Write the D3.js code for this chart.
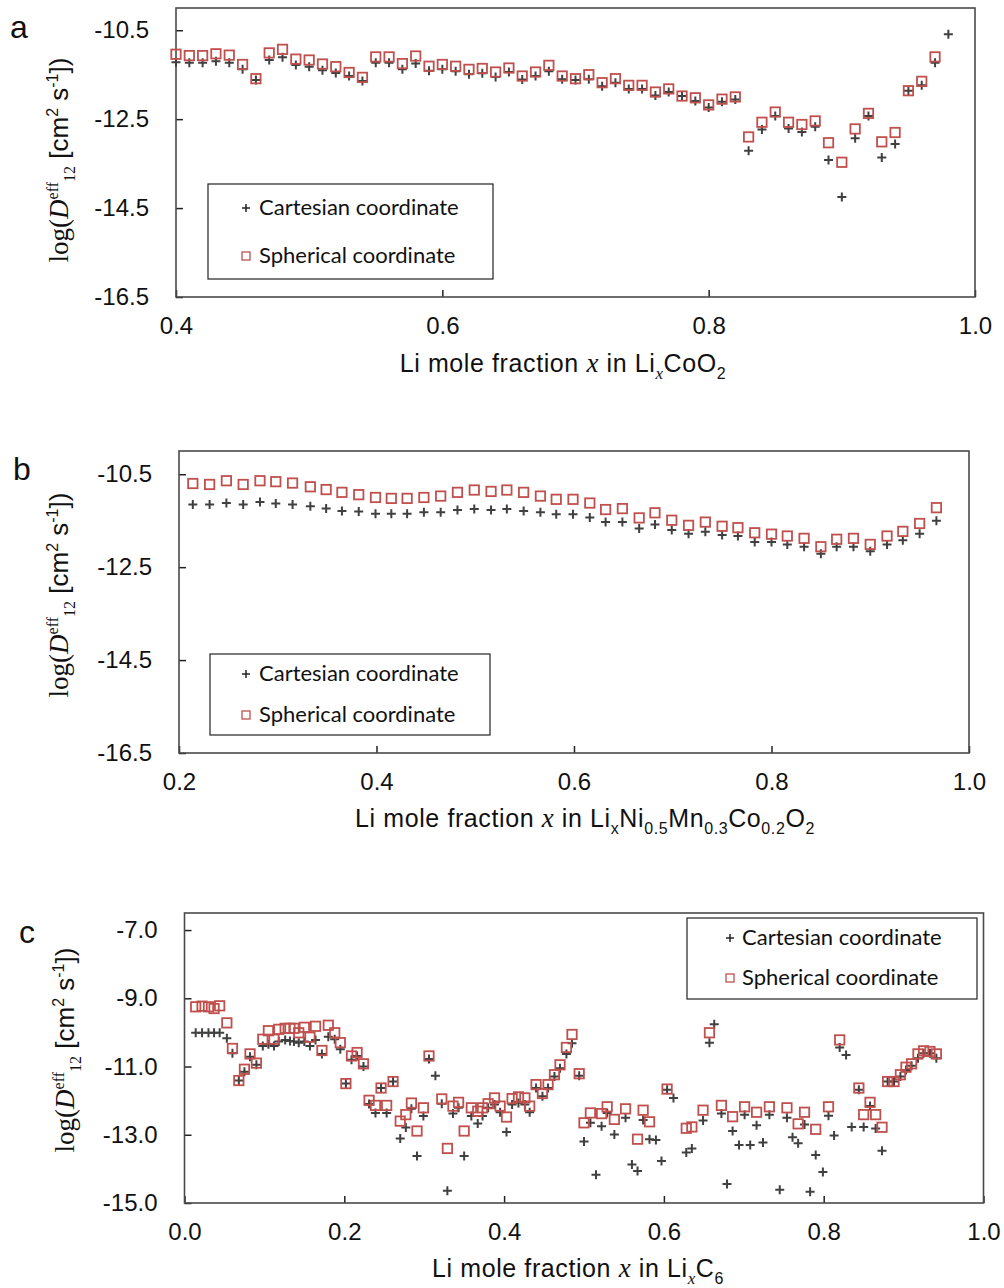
<!DOCTYPE html>
<html><head><meta charset="utf-8">
<script src="https://cdn.jsdelivr.net/npm/d3@7"></script>
<style>body{margin:0;background:#fff}svg{display:block}</style>
</head><body>
<svg id="chart" width="1004" height="1288"></svg>
<script>
// ---------------- DATA ----------------
// Panel a: LixCoO2
const xA = [0.40,0.41,0.42,0.43,0.44,0.45,0.46,0.47,0.48,0.49,0.50,0.51,0.52,0.53,0.54,0.55,0.56,0.57,0.58,0.59,0.60,0.61,0.62,0.63,0.64,0.65,0.66,0.67,0.68,0.69,0.70,
            0.71,0.72,0.73,0.74,0.75,0.76,0.77,0.78,0.79,0.80,0.81,0.82,0.83,0.84,0.85,0.86,0.87,0.88,0.89,0.90,0.91,0.92,0.93,0.94,0.95,0.96,0.97,0.98];
const cartA = [-11.22,-11.23,-11.23,-11.20,-11.23,-11.38,-11.62,-11.17,-11.11,-11.28,-11.32,-11.40,-11.46,-11.53,-11.64,-11.23,-11.23,-11.38,-11.25,-11.41,-11.38,-11.42,-11.49,-11.47,-11.55,-11.44,-11.61,-11.53,-11.42,-11.60,-11.62,
               -11.60,-11.76,-11.68,-11.82,-11.82,-11.97,-11.89,-11.98,-12.09,-12.24,-12.11,-12.06,-13.21,-12.73,-12.43,-12.71,-12.79,-12.67,-13.42,-14.25,-12.93,-12.43,-13.36,-13.06,-11.86,-11.74,-11.23,-10.59];
const sphA = [-11.04,-11.07,-11.07,-11.03,-11.06,-11.27,-11.59,-11.01,-10.93,-11.15,-11.17,-11.26,-11.32,-11.45,-11.56,-11.10,-11.10,-11.25,-11.08,-11.31,-11.27,-11.31,-11.38,-11.36,-11.44,-11.35,-11.53,-11.44,-11.29,-11.53,-11.59,
              -11.50,-11.68,-11.59,-11.74,-11.74,-11.89,-11.82,-11.98,-12.02,-12.18,-12.05,-12.00,-12.90,-12.57,-12.34,-12.57,-12.62,-12.54,-13.03,-13.47,-12.72,-12.37,-13.01,-12.80,-11.86,-11.65,-11.10,null];

// Panel b: LixNi0.5Mn0.3Co0.2O2
const xB = [0.214,0.231,0.248,0.265,0.282,0.298,0.315,0.333,0.349,0.365,0.382,0.399,0.415,0.431,0.448,0.465,0.482,0.499,0.516,0.532,0.549,0.566,0.582,0.599,
            0.616,0.632,0.649,0.666,0.682,0.699,0.716,0.733,0.750,0.766,0.783,0.800,0.816,0.833,0.850,0.866,0.883,0.900,0.917,0.933,0.950,0.967];
const cartB = [-11.15,-11.15,-11.12,-11.15,-11.10,-11.13,-11.15,-11.19,-11.24,-11.29,-11.30,-11.35,-11.35,-11.35,-11.32,-11.32,-11.27,-11.25,-11.27,-11.25,-11.29,-11.32,-11.36,-11.36,
               -11.43,-11.53,-11.53,-11.67,-11.58,-11.70,-11.78,-11.74,-11.81,-11.83,-11.96,-11.96,-12.01,-12.06,-12.21,-12.06,-12.06,-12.16,-12.01,-11.92,-11.78,-11.50];
const sphB = [-10.70,-10.72,-10.64,-10.72,-10.64,-10.66,-10.69,-10.77,-10.83,-10.89,-10.94,-11.00,-11.02,-11.02,-11.00,-10.97,-10.89,-10.84,-10.87,-10.84,-10.89,-10.97,-11.04,-11.04,
              -11.12,-11.26,-11.24,-11.44,-11.33,-11.49,-11.60,-11.53,-11.62,-11.65,-11.76,-11.79,-11.83,-11.88,-12.06,-11.90,-11.88,-12.01,-11.83,-11.73,-11.56,-11.22];

// Panel c: LixC6
const xC = [0.014,0.022,0.030,0.037,0.044,0.053,0.060,0.068,0.075,0.082,0.090,0.098,0.105,0.112,0.118,0.126,0.132,0.137,0.143,0.150,0.157,0.164,0.172,0.180,0.188,0.195,
            0.202,0.209,0.216,0.224,0.231,0.239,0.246,0.253,0.261,0.270,0.277,0.284,0.291,0.299,0.306,0.314,0.322,0.329,0.336,0.343,0.350,0.359,0.367,0.373,0.380,0.388,0.395,
            0.403,0.410,0.418,0.426,0.432,0.440,0.448,0.455,0.463,0.470,0.478,0.485,0.494,0.500,0.508,0.515,0.522,0.529,0.538,0.552,0.560,0.567,0.574,0.582,0.590,0.597,
            0.604,0.612,0.628,0.635,0.649,0.657,0.663,0.672,0.679,0.686,0.694,0.701,0.708,0.716,0.724,0.732,0.745,0.754,0.761,0.768,0.776,0.783,0.790,0.799,
            0.806,0.813,0.820,0.828,0.835,0.844,0.850,0.858,0.865,0.873,0.880,0.888,0.896,0.903,0.910,0.918,0.925,0.933,0.941];
const cartC = [-10.01,-10.01,-10.01,-10.01,-10.01,-10.17,-10.61,-11.41,-11.15,-10.71,-10.95,-10.40,-10.35,-10.40,-10.27,-10.22,-10.25,-10.27,-10.30,-10.27,-10.40,-10.22,-10.63,-10.13,-10.20,-10.49,
               -11.50,-10.80,-10.69,-11.00,-12.10,-12.36,-11.63,-12.36,-11.44,-13.11,-12.79,-12.24,-13.62,-12.45,-10.78,-11.27,-12.09,-14.64,-12.38,-12.21,-13.62,-12.45,-12.67,-12.45,-12.21,-12.11,-12.34,
               -12.92,-12.11,-12.07,-12.11,-12.34,-11.63,-11.87,-11.63,-11.29,-11.05,-10.63,-10.32,-11.27,-13.20,-12.65,-14.17,-12.75,-12.36,-12.99,-12.50,-13.87,-14.06,-12.57,-13.13,-13.15,-13.77,
               -11.68,-11.92,-13.52,-13.40,-12.58,-10.30,-9.76,-12.38,-14.44,-12.89,-13.30,-12.41,-13.30,-12.72,-13.23,-12.41,-14.61,-12.50,-13.07,-13.25,-12.70,-14.67,-13.59,-14.09,
               -12.44,-13.02,-10.44,-10.66,-12.77,-11.68,-12.77,-12.16,-12.82,-13.47,-11.44,-11.44,-11.29,-11.10,-10.98,-10.76,-10.61,-10.61,-10.76];
const sphC = [-9.25,-9.23,-9.25,-9.30,-9.22,-9.72,-10.47,-11.41,-11.08,-10.63,-10.90,-10.20,-9.95,-10.20,-9.91,-9.88,-9.88,-9.88,-10.01,-9.85,-10.14,-9.82,-10.53,-9.79,-10.01,-10.30,
              -11.50,-10.69,-10.59,-10.92,-11.99,-12.14,-11.63,-12.14,-11.44,-12.60,-12.41,-12.07,-12.89,-12.21,-10.69,null,-11.95,-13.40,-12.16,-12.05,-12.89,-12.21,-12.31,-12.21,-12.09,-11.92,-12.16,
              -12.48,-11.94,-11.89,-11.92,-12.16,-11.53,-11.79,-11.53,-11.24,-10.95,-10.44,-10.06,-11.21,-12.65,-12.36,null,-12.38,-12.18,-12.55,-12.24,null,-13.13,-12.28,-12.62,null,null,
              -11.66,null,-12.81,-12.77,-12.28,-10.01,null,-12.14,null,-12.47,null,-12.18,null,-12.34,null,-12.18,null,-12.21,null,-12.68,-12.34,null,-12.84,null,
              -12.18,null,-10.22,null,null,-11.63,-12.41,-12.05,-12.41,-12.78,-11.44,-11.44,-11.24,-11.02,-10.92,-10.63,-10.54,-10.56,-10.63];

// Tick labels
const xTicksA = [0.4,0.6,0.8,1.0];
const xTicksB = [0.2,0.4,0.6,0.8,1.0];
const xTicksC = [0.0,0.2,0.4,0.6,0.8,1.0];
const yTicksAB = [-10.5,-12.5,-14.5,-16.5];
const yTicksC = [-7.0,-9.0,-11.0,-13.0,-15.0];
const seriesNames = ["Cartesian coordinate","Spherical coordinate"];

// ---------------- DRAWING ----------------
const svg = d3.select("#chart");
const SANS = "'Liberation Sans', Arial, sans-serif";
const SERIF = "'Liberation Serif', 'Times New Roman', serif";
const LEG = "Lato, 'Open Sans', sans-serif";
const RED = "#c0504d", DARK = "#404040";
const fmt = d => d.toFixed(1);

function addRuns(textSel, runs, base) {
  runs.forEach(r => {
    const t = textSel.append("tspan").text(r.t)
      .attr("font-family", r.serif ? SERIF : SANS)
      .attr("font-size", r.size || base);
    if (r.italic) t.attr("font-style", "italic");
    if (r.dy) t.attr("dy", r.dy);
  });
}

function panel(cfg) {
  const x = d3.scaleLinear().domain(cfg.xDomain).range([cfg.left, cfg.right]);
  const y = d3.scaleLinear().domain(cfg.yDomain).range([cfg.bottom, cfg.top]);
  const g = svg.append("g");

  const xa = g.append("g").attr("transform", `translate(0,${cfg.bottom})`)
    .call(d3.axisBottom(x).tickValues(cfg.xTicks).tickFormat(fmt)
      .tickSizeInner(-7).tickSizeOuter(0).tickPadding(20));
  const ya = g.append("g").attr("transform", `translate(${cfg.left},0)`)
    .call(d3.axisLeft(y).tickValues(cfg.yTicks).tickFormat(fmt)
      .tickSizeInner(-7).tickSizeOuter(0).tickPadding(27));
  [xa, ya].forEach(a => {
    a.select(".domain").remove();
    a.selectAll(".tick line").attr("stroke", "#222").attr("stroke-width", 1.5);
    a.selectAll(".tick text").attr("font-family", SANS).attr("font-size", 24).attr("fill", "#111");
  });

  g.append("rect").attr("x", cfg.left).attr("y", cfg.top)
    .attr("width", cfg.right - cfg.left).attr("height", cfg.bottom - cfg.top)
    .attr("fill", "none").attr("stroke", "#4a4a4a").attr("stroke-width", 1.6);

  const cart = cfg.xs.map((v, i) => [v, cfg.cart[i]]).filter(d => d[1] != null);
  const sph = cfg.xs.map((v, i) => [v, cfg.sph[i]]).filter(d => d[1] != null);

  g.append("g").selectAll("path").data(cart).join("path")
    .attr("transform", d => `translate(${x(d[0])},${y(d[1])})`)
    .attr("d", "M-4.5,0H4.5M0,-4.5V4.5")
    .attr("stroke", DARK).attr("stroke-width", 2).attr("fill", "none");
  g.append("g").selectAll("rect").data(sph).join("rect")
    .attr("x", d => x(d[0]) - 4.7).attr("y", d => y(d[1]) - 4.7)
    .attr("width", 9.4).attr("height", 9.4)
    .attr("fill", "none").attr("stroke", RED).attr("stroke-width", 1.8);

  // legend
  const L = cfg.legend;
  g.append("rect").attr("x", L.x).attr("y", L.y).attr("width", L.w).attr("height", L.h)
    .attr("fill", "#fff").attr("stroke", "#222").attr("stroke-width", 1.2);
  g.append("path").attr("transform", `translate(${L.mx},${L.r1})`)
    .attr("d", "M-4,0H4M0,-4V4").attr("stroke", "#222").attr("stroke-width", 1.5);
  g.append("rect").attr("x", L.mx - 4).attr("y", L.r2 - 4).attr("width", 8).attr("height", 8)
    .attr("fill", "none").attr("stroke", RED).attr("stroke-width", 1.3);
  [L.r1, L.r2].forEach((ry, i) => {
    g.append("text").attr("x", L.tx).attr("y", ry + 7).text(seriesNames[i])
      .attr("font-family", LEG).attr("font-size", 22).attr("fill", "#111");
  });

  // panel letter
  g.append("text").attr("x", cfg.letter[0]).attr("y", cfg.letter[1]).text(cfg.letter[2])
    .attr("font-family", SANS).attr("font-size", 32).attr("fill", "#111");

  // x title
  const xt = g.append("text").attr("x", cfg.xTitleX).attr("y", cfg.xTitleY)
    .attr("text-anchor", "middle").attr("fill", "#111").attr("letter-spacing", 0.6);
  addRuns(xt, cfg.xTitle, 25);

  // y title
  const yt = g.append("text")
    .attr("transform", `translate(${cfg.yTitleX},${cfg.yTitleY}) rotate(-90)`)
    .attr("text-anchor", "middle").attr("fill", "#111");
  addRuns(yt, [
    {t: "log(", serif: true, size: 27},
    {t: "D", serif: true, italic: true, size: 27},
    {t: "eff", serif: true, size: 16, dy: -10},
    {t: "12", serif: true, size: 16, dy: 17},
    {t: " [cm", dy: -7},
    {t: "2", size: 16, dy: -10},
    {t: " s", dy: 10},
    {t: "-1", size: 16, dy: -10},
    {t: "])", dy: 10}
  ], 26);
}

const xTitleStart = [
  {t: "Li mole fraction "},
  {t: "x", serif: true, italic: true, size: 27},
  {t: " in Li"}
];

panel({
  xs: xA, cart: cartA, sph: sphA,
  xDomain: [0.4, 1.0], yDomain: [-16.5, -10.0],
  left: 176, right: 975, top: 8, bottom: 297,
  xTicks: xTicksA, yTicks: yTicksAB,
  legend: {x: 208, y: 184, w: 285, h: 95, r1: 208, r2: 256, mx: 246, tx: 259},
  letter: [10, 38, "a"],
  xTitleX: 563, xTitleY: 372,
  xTitle: xTitleStart.concat([
    {t: "x", serif: true, italic: true, size: 17, dy: 7},
    {t: "CoO", dy: -7},
    {t: "2", size: 16, dy: 7}
  ]),
  yTitleX: 68, yTitleY: 160
});

panel({
  xs: xB, cart: cartB, sph: sphB,
  xDomain: [0.2, 1.0], yDomain: [-16.5, -10.0],
  left: 179, right: 969, top: 451, bottom: 753,
  xTicks: xTicksB, yTicks: yTicksAB,
  legend: {x: 210, y: 654, w: 280, h: 81, r1: 674, r2: 715, mx: 246, tx: 259},
  letter: [13, 480, "b"],
  xTitleX: 585, xTitleY: 827,
  xTitle: xTitleStart.concat([
    {t: "x", size: 16, dy: 7},
    {t: "Ni", dy: -7},
    {t: "0.5", size: 16, dy: 7},
    {t: "Mn", dy: -7},
    {t: "0.3", size: 16, dy: 7},
    {t: "Co", dy: -7},
    {t: "0.2", size: 16, dy: 7},
    {t: "O", dy: -7},
    {t: "2", size: 16, dy: 7}
  ]),
  yTitleX: 68, yTitleY: 595
});

panel({
  xs: xC, cart: cartC, sph: sphC,
  xDomain: [0.0, 1.0], yDomain: [-15.0, -6.5],
  left: 184.5, right: 983.5, top: 913, bottom: 1203,
  xTicks: xTicksC, yTicks: yTicksC,
  legend: {x: 687, y: 918, w: 290, h: 81, r1: 938, r2: 978, mx: 730, tx: 742},
  letter: [19, 943, "c"],
  xTitleX: 578, xTitleY: 1277,
  xTitle: xTitleStart.concat([
    {t: "x", serif: true, italic: true, size: 17, dy: 7},
    {t: "C", dy: -7},
    {t: "6", size: 16, dy: 7}
  ]),
  yTitleX: 74, yTitleY: 1050
});
</script>
</body></html>
